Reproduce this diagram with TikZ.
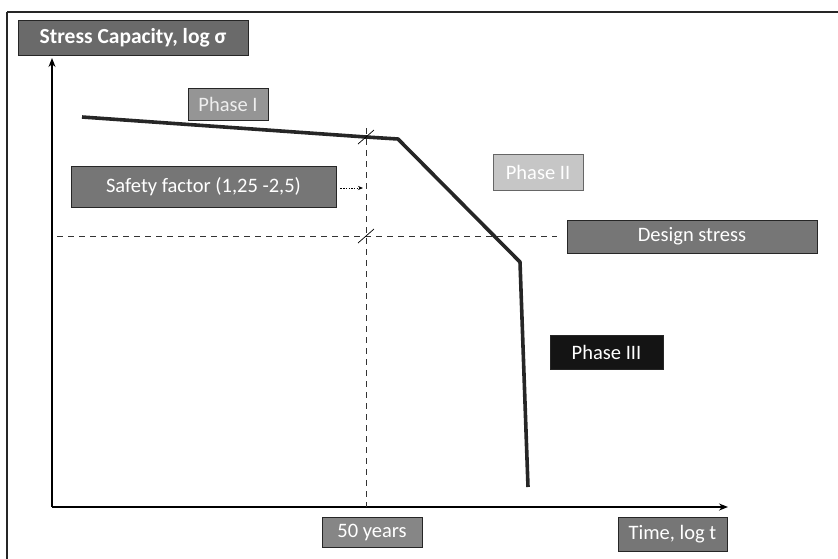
\documentclass[tikz,border=0pt]{standalone}
\usepackage{fontspec}
\setmainfont{Carlito}
\usetikzlibrary{arrows.meta}
\definecolor{boxdark}{HTML}{767676}
\definecolor{boxmid}{HTML}{959595}
\definecolor{boxlight}{HTML}{C6C6C6}
\definecolor{textlight}{HTML}{EEEEEE}
\tikzset{
  lbl/.style={draw=black!85, line width=0.8pt, inner sep=0pt, text=white, font=\fontsize{20.5}{22}\selectfont},
  axisline/.style={line width=1.3pt, -{Stealth[length=9pt,width=7pt]}},
  curve/.style={line width=3.6pt, line join=round, black!85},
  guide/.style={line width=0.9pt, dash pattern=on 6pt off 5pt, black!80},
  tickmark/.style={line width=0.7pt, black},
}
\begin{document}
\begin{tikzpicture}[x=1pt,y=-1pt]
\useasboundingbox (0,0) rectangle (838,558);
% outer frame
\draw[line width=1.2pt, black!85] (7,12) -- (845,12);
\draw[line width=1.2pt, black!85] (7,12) -- (7,565);
% boxes
\node[lbl, fill=boxdark!90!black, minimum width=230pt, minimum height=35pt, font=\bfseries\fontsize{21.5}{23}\selectfont] (ylab) at (133,37.5) {Stress Capacity, log σ};
\node[lbl, fill=boxmid, text=textlight, minimum width=80pt, minimum height=32pt] (ph1) at (228,104) {Phase I};
\node[lbl, fill=boxdark, minimum width=265pt, minimum height=41pt] (safety) at (203.5,186.5) {Safety factor (1,25 -2,5)};
\node[lbl, fill=boxlight, text=white, draw=black!60, minimum width=90pt, minimum height=36pt] (ph2) at (538,172) {Phase II};
\node[lbl, fill=boxdark, minimum width=250pt, minimum height=33pt] (design) at (692,236.5) {Design stress};
\node[lbl, fill=black!92, minimum width=113pt, minimum height=34pt] (ph3) at (606.5,352) {Phase III};
\node[lbl, fill=boxmid!90!black, minimum width=100pt, minimum height=30pt] (fifty) at (372,532) {50 years};
\node[lbl, fill=boxdark, minimum width=109pt, minimum height=34pt] (time) at (672.5,534) {Time, log t};
% axes
\coordinate (origin) at (52,507);
\coordinate (ytip) at (52,58);
\coordinate (xtip) at (728,507);
\draw[axisline] (origin) -- (ytip);
\draw[axisline] (origin) -- (xtip);
% guide lines
\coordinate (vtop) at (366,128);
\coordinate (vbot) at (366,507);
\coordinate (hleft) at (57,236);
\coordinate (hright) at (557,236);
\draw[guide] (vtop) -- (vbot);
\draw[guide] (hleft) -- (hright);
% curve
\coordinate (c0) at (82,117);
\coordinate (c1) at (366,137);
\coordinate (c2) at (398,139);
\coordinate (c3) at (520,262);
\coordinate (c4) at (528,487);
\draw[curve] (c0) -- (c1) -- (c2) -- (c3) -- (c4);
% tick marks
\coordinate (t1) at (366,137);
\coordinate (t2) at (366,236);
\draw[tickmark] ([shift={(-8,7)}]t1) -- ([shift={(8,-7)}]t1);
\draw[tickmark] ([shift={(-8,7)}]t2) -- ([shift={(8,-7)}]t2);
% safety arrow
\coordinate (sa) at (363,188);
\draw[line width=0.8pt, dash pattern=on 1.5pt off 1.2pt, -{Stealth[length=5pt,width=4pt]}] (safety.east) ++(4,1.5) -- (sa);
\end{tikzpicture}
\end{document}
